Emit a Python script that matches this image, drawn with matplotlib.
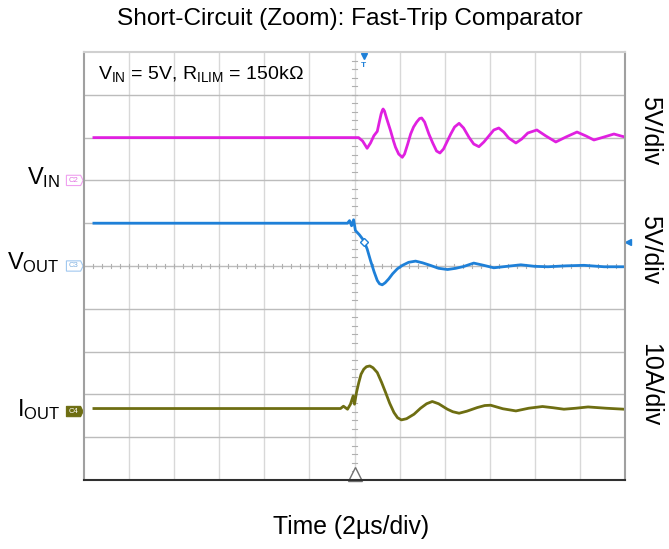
import numpy as np
import matplotlib
matplotlib.use('Agg')
import matplotlib.pyplot as plt
from matplotlib.patches import Polygon

plt.rcParams['font.family'] = ['Liberation Sans', 'DejaVu Sans']
plt.rcParams['mathtext.fontset'] = 'custom'
plt.rcParams['mathtext.rm'] = 'Liberation Sans'
plt.rcParams['mathtext.it'] = 'Liberation Sans'

# time in us (2us/div, trigger at 0)
vin_t = [-11.56, -0.04, 0.18, 0.36, 0.56, 0.71, 0.86, 1.01, 1.09, 1.18, 1.24, 1.27, 1.33,
         1.42, 1.6, 1.73, 1.82, 1.96, 2.12, 2.22, 2.36, 2.49, 2.62, 2.76, 2.89, 2.98,
         3.11, 3.3, 3.47, 3.64, 3.79, 3.95, 4.27, 4.44, 4.64, 4.84, 5.08, 5.29, 5.52,
         5.74, 5.97, 6.18, 6.4, 6.62, 6.84, 7.16, 7.42, 7.69, 8.09, 8.49, 8.93, 9.38,
         9.87, 10.27, 10.62, 11.07, 11.51, 11.82, 12.0]
vin_v = [5.0, 5.0, 5.0, 4.6, 3.75, 4.37, 5.22, 5.73, 6.7, 7.76, 8.22, 8.34, 8.1,
         7.29, 5.8, 4.6, 3.87, 3.08, 2.7, 3.08, 4.25, 5.42, 6.24, 6.82, 7.23, 7.29,
         6.82, 5.42, 4.37, 3.43, 3.2, 3.67, 5.42, 6.24, 6.67, 6.12, 5.03, 4.25, 3.94,
         4.49, 5.22, 5.89, 6.12, 5.65, 4.95, 4.37, 4.84, 5.54, 5.89, 5.19, 4.49, 5.07,
         5.65, 5.19, 4.72, 5.07, 5.42, 5.19, 5.07]

vout_t = [-11.56, -0.31, -0.22, -0.13, -0.04, 0.04, 0.22, 0.41, 0.56, 0.71, 0.87, 1.01,
          1.11, 1.23, 1.36, 1.52, 1.69, 1.9, 2.13, 2.4, 2.71, 3.02, 3.38, 3.73, 4.13,
          4.49, 4.84, 5.29, 5.73, 6.18, 6.76, 7.38, 8.0, 8.58, 9.38, 10.18, 11.07, 11.96]
vout_v = [5.0, 5.0, 5.3, 4.7, 5.4, 4.15, 3.64, 2.98, 2.0, 0.64, -0.68, -1.69,
          -2.08, -2.2, -1.96, -1.5, -0.91, -0.33, 0.08, 0.43, 0.57, 0.37, 0.06, -0.27, -0.41,
          -0.27, -0.06, 0.34, 0.08, -0.21, -0.04, 0.14, -0.04, -0.09, 0.02, 0.08, -0.09, -0.09]

iout_t = [-11.56, -0.62, -0.49, -0.31, -0.18, -0.06, 0.0, 0.09, 0.19, 0.29, 0.41, 0.53,
          0.68, 0.82, 1.01, 1.2, 1.38, 1.56, 1.75, 1.91, 2.08, 2.31, 2.64, 2.93, 3.2,
          3.45, 3.73, 4.12, 4.36, 4.64, 4.98, 5.45, 5.78, 6.04, 6.58, 7.16, 7.73, 8.34,
          8.8, 9.29, 9.82, 10.36, 11.16, 11.96]
iout_a = [0.7, 0.7, 1.24, 0.54, 1.7, 3.64, 1.71, 4.51, 6.77, 8.71, 9.88, 10.47,
          10.65, 10.23, 9.11, 6.84, 4.44, 1.94, -0.23, -1.45, -1.96, -1.68, -0.63, 0.77, 1.82,
          2.34, 1.82, 0.54, -0.05, -0.4, 0.07, 0.93, 1.4, 1.47, 0.65, 0.14, 0.77, 1.17,
          0.89, 0.54, 0.77, 1.07, 0.77, 0.54]

# channel settings: scale per div and ground offset in divs
vin_scale, vin_off = 5.0, 2.0
vout_scale, vout_off = 5.0, 0.0
iout_scale, iout_off = 10.0, -3.4
trig_t, trig_v = 0.4, 2.83

pink = '#e020e0'
blue = '#1e80d8'
olive = '#6e6e12'

W, H = 669, 549
fig = plt.figure(figsize=(W / 100, H / 100), dpi=100)
ax = fig.add_axes([84 / W, 1 - 480 / H, 541 / W, 428 / H])
ax.set_xlim(-12, 12)
ax.set_ylim(-5, 5)

for x in np.arange(-10, 12, 2):
    ax.axvline(x, color='#d8d8d8', lw=1, zorder=0)
for y in np.arange(-4, 5, 1):
    ax.axhline(y, color='#bcbcbc', lw=1, zorder=0)

# minor ticks on the center lines
for x in np.arange(-11.6, 12, 0.4):
    ax.plot([x, x], [-0.05, 0.05], color='#b0b0b0', lw=0.8, zorder=0)
for y in np.arange(-4.8, 5, 0.2):
    ax.plot([-0.1, 0.1], [y, y], color='#b0b0b0', lw=0.8, zorder=0)

ax.plot(vin_t, np.array(vin_v) / vin_scale + vin_off, color=pink, lw=2)
ax.plot(vout_t, np.array(vout_v) / vout_scale + vout_off, color=blue, lw=2)
ax.plot(iout_t, np.array(iout_a) / iout_scale + iout_off, color=olive, lw=2)

# trigger markers
ax.plot(trig_t, trig_v / vout_scale + vout_off, marker='D', ms=4, mfc='white', mec=blue, mew=1)
ax.plot(trig_t, 4.9, marker='v', ms=5, color=blue, clip_on=False)
ax.text(trig_t, 4.68, 'T', color=blue, fontsize=6, ha='center', va='center', fontweight='bold')
ax.plot(0, -4.86, marker='^', ms=10, mfc='white', mec='#707070', mew=1, clip_on=False)
ax.plot(12.12, trig_v / vout_scale + vout_off, marker='<', ms=5, color=blue, clip_on=False)

ax.set_xticks([])
ax.set_yticks([])
ax.spines['left'].set_color('#a0a0a0')
ax.spines['bottom'].set_color('#303030')
ax.spines['top'].set_color('#d0d0d0')
ax.spines['right'].set_color('#a0a0a0')
for s in ax.spines.values():
    s.set_linewidth(1.5)

# channel tags
def tag(y, label, edge, face, tcolor):
    pts = [(-12.78, y - 0.12), (-12.15, y - 0.12), (-12.04, y), (-12.15, y + 0.12), (-12.78, y + 0.12)]
    ax.add_patch(Polygon(pts, closed=True, fc=face, ec=edge, lw=0.8, clip_on=False))
    ax.text(-12.45, y, label, fontsize=5.5, color=tcolor, ha='center', va='center', clip_on=False)

tag(vin_off, 'C2', '#f0a0f0', 'white', '#e070e0')
tag(vout_off, 'C3', '#a0c8f0', 'white', '#80b0e0')
tag(iout_off, 'C4', olive, olive, 'white')

def fx(px):
    return px / W

def fy(py):
    return 1 - py / H

fig.text(fx(60), fy(184), r'V$_{\mathrm{IN}}$', fontsize=17, ha='right', va='baseline')
fig.text(fx(60), fy(269), r'V$_{\mathrm{OUT}}$', fontsize=17, ha='right', va='baseline')
fig.text(fx(60), fy(416), r'I$_{\mathrm{OUT}}$', fontsize=17, ha='right', va='baseline')

fig.text(fx(98), fy(79), r'V$_{\mathrm{IN}}$ = 5V, R$_{\mathrm{ILIM}}$ = 150k$\Omega$',
         fontsize=14, ha='left', va='baseline')

fig.text(fx(650), fy(131), '5V/div', fontsize=18, rotation=270, ha='center', va='center')
fig.text(fx(650), fy(250), '5V/div', fontsize=18, rotation=270, ha='center', va='center')
fig.text(fx(650), fy(385), '10A/div', fontsize=18, rotation=270, ha='center', va='center')

fig.text(fx(350), fy(19), 'Short-Circuit (Zoom): Fast-Trip Comparator', fontsize=17.6,
         ha='center', va='center')
fig.text(fx(351), fy(527), 'Time (2µs/div)', fontsize=17.8, ha='center', va='center')

fig.savefig('out.png', dpi=100)
